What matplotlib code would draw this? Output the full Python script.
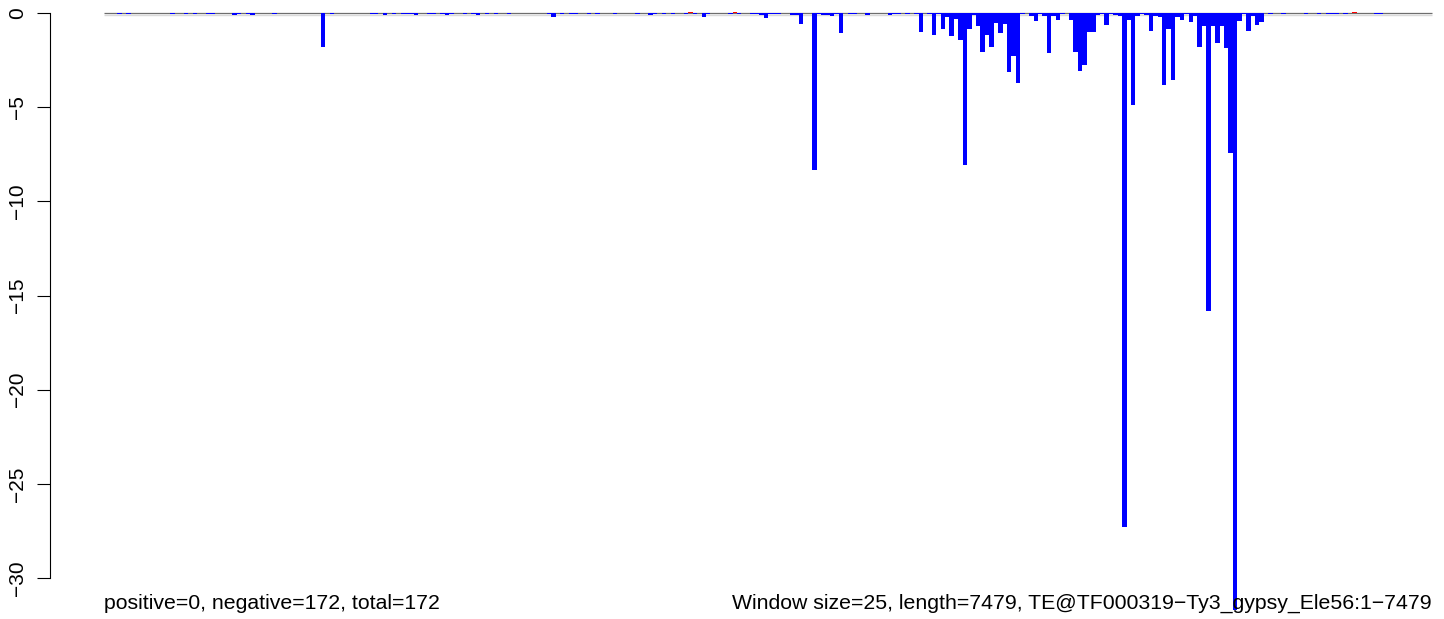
#!/usr/bin/env python3
"""
plot.py - window score barplot (TE coverage), R-style look
"""

import matplotlib
matplotlib.use('Agg')
import matplotlib.pyplot as plt
import numpy as np

plt.rcParams['font.family'] = ['Liberation Sans', 'DejaVu Sans']

# ---- data ----
window_size = 25
seq_length = 7479
te_name = 'TE@TF000319\u2212Ty3_gypsy_Ele56:1\u22127479'
n_windows = 300

# non-zero windows (window index, score)
neg_idx = [3, 5, 15, 18, 20, 23, 24, 29, 30, 32, 33, 38, 49, 51, 60, 61, 63,
           65, 67, 68, 69, 70, 73, 74, 76, 77, 78, 81, 83, 84, 86, 88, 91,
           100, 101, 103, 105, 106, 109, 111, 115, 120, 123, 124, 126, 128,
           131, 133, 135, 136, 141, 143, 146, 147, 148, 149, 150, 151, 152,
           155, 156, 157, 160, 161, 162, 163, 164, 165, 166, 168, 169, 172,
           177, 178, 179, 181, 183, 184, 186, 187, 188, 189, 190, 191, 192,
           193, 194, 195, 196, 197, 198, 199, 200, 201, 202, 203, 204, 205,
           206, 207, 209, 210, 211, 212, 213, 214, 215, 216, 218, 219, 220,
           221, 222, 223, 224, 225, 226, 227, 228, 229, 230, 231, 232, 233,
           234, 235, 236, 237, 238, 239, 240, 241, 242, 243, 244, 245, 246,
           247, 248, 249, 250, 251, 252, 253, 254, 255, 256, 257, 258, 259,
           260, 261, 263, 266, 271, 274, 276, 277, 278, 280, 287, 288]
neg_val = [-0.07, -0.04, -0.04, -0.04, -0.04, -0.04, -0.04, -0.08, -0.04,
           -0.04, -0.08, -0.04, -1.83, -0.04, -0.03, -0.03, -0.08, -0.04,
           -0.04, -0.04, -0.04, -0.12, -0.04, -0.04, -0.04, -0.11, -0.05,
           -0.04, -0.04, -0.10, -0.06, -0.06, -0.04, -0.04, -0.23, -0.06,
           -0.06, -0.06, -0.05, -0.05, -0.04, -0.04, -0.10, -0.05, -0.05,
           -0.05, -0.04, -0.04, -0.23, -0.05, -0.04, -0.04, -0.04, -0.06,
           -0.10, -0.28, -0.05, -0.05, -0.05, -0.10, -0.10, -0.60, -8.32,
           -0.04, -0.10, -0.10, -0.15, -0.05, -1.05, -0.06, -0.04, -0.10,
           -0.10, -0.06, -0.06, -0.06, -0.04, -1.00, -0.05, -1.19, -0.05,
           -0.87, -0.23, -1.24, -0.30, -1.45, -8.09, -0.87, -0.10, -0.67,
           -2.06, -1.15, -1.83, -0.53, -1.05, -0.57, -3.15, -2.27, -3.74,
           -0.05, -0.18, -0.45, -0.05, -0.18, -2.14, -0.18, -0.39, -0.05,
           -0.36, -2.09, -3.10, -2.78, -1.00, -1.00, -0.13, -0.05, -0.66,
           -0.05, -0.13, -0.18, -27.3, -0.36, -4.87, -0.18, -0.05, -0.13,
           -0.93, -0.18, -0.23, -3.84, -0.84, -3.54, -0.23, -0.39, -0.05,
           -0.50, -0.18, -1.83, -0.71, -15.8, -0.71, -1.61, -0.71, -1.88,
           -7.46, -31.7, -0.45, -0.05, -0.98, -0.18, -0.66, -0.50, -0.04,
           -0.05, -0.05, -0.05, -0.04, -0.04, -0.05, -0.04, -0.05, -0.04]

# tiny red marks on the baseline
pos_idx = [132, 142, 282]
pos_val = [0.05, 0.05, 0.05]

n_pos = 0
n_neg = 172
n_total = 172

yticks = [0, -5, -10, -15, -20, -25, -30]


def main():
    fig = plt.figure(figsize=(14.44, 6.19), dpi=100)
    # axes left edge = y axis line (px 50); 4.4267 px per window, first window at px 104
    ax = fig.add_axes([50 / 1444, 0, 1394 / 1444, 1])
    px_per_win = 1328 / n_windows
    ax.set_xlim(-54 / px_per_win, 1340 / px_per_win)
    px_per_unit = 565 / 30
    ax.set_ylim(-(619 - 13) / px_per_unit, 13 / px_per_unit)

    # baseline
    ax.hlines(-0.08, 0, n_windows, color='#dadada', lw=1.0, zorder=1)
    ax.hlines(0, 0, n_windows, color='#6e6e6e', lw=0.9, zorder=1.5)

    ax.bar(neg_idx, neg_val, width=1, align='edge', color='#0000ff',
           linewidth=0, zorder=2)
    ax.bar(pos_idx, pos_val, width=1, align='edge', color='#ff0000',
           linewidth=0, zorder=2)

    # R-style axis
    for s in ['top', 'right', 'bottom']:
        ax.spines[s].set_visible(False)
    ax.spines['left'].set_bounds(-30, 0)
    ax.spines['left'].set_linewidth(0.8)
    ax.set_xticks([])
    ax.set_yticks(yticks)
    ax.tick_params(axis='y', length=9.5, width=0.8, pad=7, labelsize=15)
    for lbl in ax.get_yticklabels():
        lbl.set_rotation(90)
        lbl.set_va('center')

    ybase = -(609 - 13) / px_per_unit
    ax.text(0, ybase, f'positive={n_pos}, negative={n_neg}, total={n_total}',
            ha='left', va='baseline', fontsize=15.3)
    ax.text(n_windows, ybase,
            f'Window size={window_size}, length={seq_length}, {te_name}',
            ha='right', va='baseline', fontsize=15.3)

    plt.savefig('out.png', dpi=100)
    plt.close()


if __name__ == '__main__':
    main()
